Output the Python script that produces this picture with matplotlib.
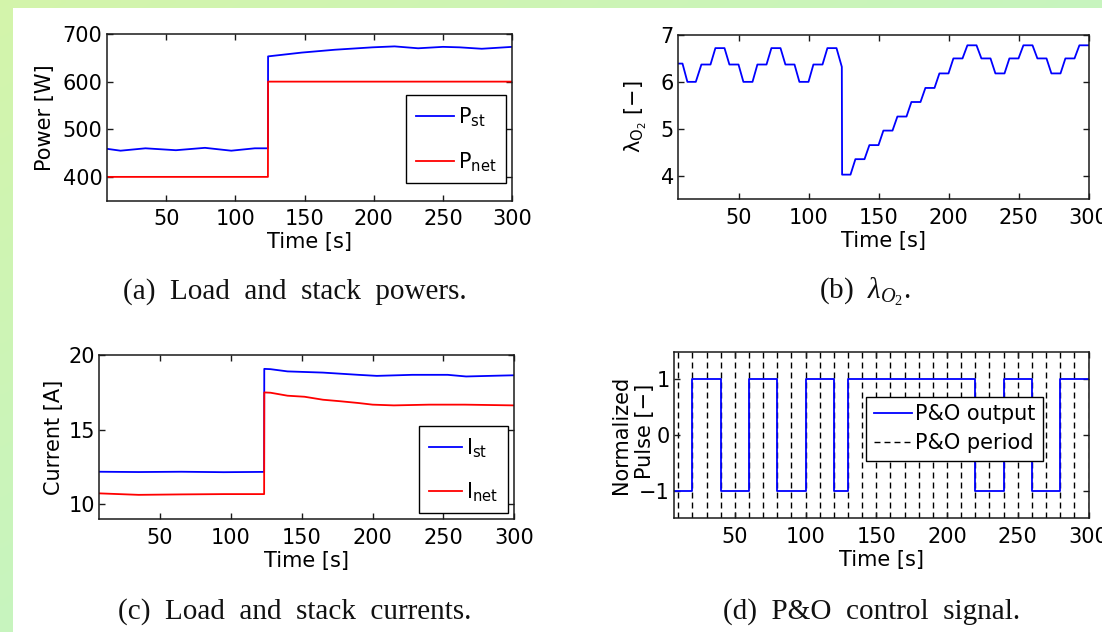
import numpy as np
import matplotlib
matplotlib.use("Agg")
import matplotlib.pyplot as plt
from matplotlib.lines import Line2D
from matplotlib.patches import Rectangle

# ---------------- data ----------------
xticks_time = [50, 100, 150, 200, 250, 300]

# (a) powers
t_pst = [7, 17, 35, 57, 78, 97, 114, 123.5, 123.6, 148, 172, 199, 215, 232, 250, 262, 278, 300]
p_st = [459, 455, 460, 456, 461, 455, 460, 460, 653, 661, 667, 672, 674, 670, 673, 672, 669, 673]
t_pnet = [7, 123.5, 123.6, 300]
p_net = [400, 400, 600, 600]

# (b) oxygen excess ratio
t_lam = [7, 10, 13.5, 19.5, 23.5, 30, 33.5, 40, 43.5, 50, 53.5, 60, 63.5, 70, 73.5,
         80, 83.5, 90, 93.5, 100, 103.5, 110, 113.5, 120, 123.8, 124, 130, 133.5,
         140, 143.5, 150, 153.5, 160, 163.5, 170, 173.5, 180, 183.5, 190, 193.5,
         200, 203.5, 210, 213.5, 220, 223.5, 230, 233.5, 240, 243.5, 250, 253.5,
         260, 263.5, 270, 273.5, 280, 283.5, 290, 293.5, 300]
lam = [6.39, 6.39, 6.0, 6.0, 6.37, 6.37, 6.72, 6.72, 6.37, 6.37, 6.0, 6.0, 6.37, 6.37, 6.72,
       6.72, 6.37, 6.37, 6.0, 6.0, 6.37, 6.37, 6.72, 6.72, 6.32, 4.02, 4.02, 4.35,
       4.35, 4.65, 4.65, 4.96, 4.96, 5.26, 5.26, 5.57, 5.57, 5.87, 5.87, 6.18,
       6.18, 6.5, 6.5, 6.78, 6.78, 6.5, 6.5, 6.18, 6.18, 6.5, 6.5, 6.78,
       6.78, 6.5, 6.5, 6.18, 6.18, 6.5, 6.5, 6.78, 6.78]

# (c) currents
t_ist = [7, 35, 65, 95, 123.5, 123.6, 128, 140, 165, 190, 203, 228, 253, 266, 291, 300]
i_st = [12.17, 12.15, 12.17, 12.14, 12.16, 19.07, 19.05, 18.9, 18.82, 18.67, 18.6, 18.67, 18.67, 18.56, 18.62, 18.64]
t_inet = [7, 35, 65, 95, 123.5, 123.6, 128, 140, 152, 165, 177, 190, 200, 215, 240, 265, 300]
i_net = [10.72, 10.62, 10.65, 10.67, 10.67, 17.49, 17.47, 17.27, 17.2, 17.0, 16.9, 16.78, 16.67, 16.62, 16.67, 16.67, 16.62]

# (d) P&O control signal
t_pulse = [7, 20, 40, 60, 80, 100, 120, 130, 220, 240, 260, 280, 300]
pulse = [-1, 1, -1, 1, -1, 1, -1, 1, -1, 1, -1, 1, 1]
t_period = [10, 20, 30, 40, 50, 60, 70, 80, 90, 100, 110, 120, 130, 140, 150,
            160, 170, 180, 190, 200, 210, 220, 230, 240, 250, 260, 270, 280, 290, 300]

captions = ["(a)  Load  and  stack  powers.",
            r"(b)  $\lambda_{O_\mathsf{2}}$.",
            "(c)  Load  and  stack  currents.",
            "(d)  P&O  control  signal."]

# ---------------- style ----------------
plt.rcParams.update({
    'font.family': ['DejaVu Sans'],
    'font.size': 15,
    'mathtext.fontset': 'custom',
    'mathtext.rm': 'DejaVu Sans',
    'mathtext.it': 'Liberation Serif:italic',
    'mathtext.sf': 'Liberation Serif',
    'axes.linewidth': 1.1,
    'axes.edgecolor': '#1a1a1a',
    'xtick.direction': 'in', 'ytick.direction': 'in',
    'xtick.top': True, 'ytick.right': True,
    'xtick.major.size': 4, 'ytick.major.size': 4,
    'xtick.major.width': 1.0, 'ytick.major.width': 1.0,
    'xtick.major.pad': 6.2, 'ytick.major.pad': 3.1,
    'xtick.color': '#1a1a1a', 'ytick.color': '#1a1a1a',
    'xtick.labelcolor': 'black', 'ytick.labelcolor': 'black',
})

W, H = 1102, 632
fig = plt.figure(figsize=(W / 100, H / 100), dpi=100)

# background: green gradient strips at top and left, white page
bg = fig.add_axes([0, 0, 1, 1], zorder=-10)
bg.set_axis_off()
c1 = np.array([0.83, 0.96, 0.67])
c2 = np.array([0.75, 0.96, 0.80])
gx = np.linspace(0, 1, 200)[None, :, None]
gy = np.linspace(0, 1, 120)[:, None, None]
mix = np.clip(0.6 * gx + 0.6 * gy, 0, 1)
grad = c1 * (1 - mix) + c2 * mix
bg.imshow(grad, extent=[0, W, H, 0], aspect='auto', interpolation='bilinear')
bg.add_patch(Rectangle((12.5, 7.5), W, H, color='white', lw=0))
bg.set_xlim(0, W)
bg.set_ylim(H, 0)


def rect(x0, y0, x1, y1):
    return [x0 / W, 1 - y1 / H, (x1 - x0) / W, (y1 - y0) / H]


def style(ax, yticks, ylim):
    ax.set_xlim(7, 300)
    ax.set_ylim(*ylim)
    ax.set_xticks(xticks_time)
    ax.set_yticks(yticks)
    ax.set_xlabel("Time [s]")
    ax.xaxis.set_label_coords(0.5, -31.5 / (ax.get_position().height * H))


def legend(ax, handles, labels, loc, anchor, labelspacing, borderpad, handlelength=1.84):
    leg = ax.legend(handles, labels, loc=loc, bbox_to_anchor=anchor, borderaxespad=0,
                    fancybox=False, edgecolor='black', framealpha=1, shadow=False,
                    handlelength=handlelength, handletextpad=0.15, borderpad=borderpad,
                    labelspacing=labelspacing, fontsize=15)
    leg.get_frame().set_linewidth(1.0)
    return leg


blue = '#0000ff'
red = '#ff0000'

# (a)
axa = fig.add_axes(rect(106.7, 34, 512.2, 200.7))
la, = axa.plot(t_pst, p_st, color=blue, lw=1.3)
lb, = axa.plot(t_pnet, p_net, color=red, lw=1.3)
style(axa, [400, 500, 600, 700], (350, 700))
axa.set_ylabel("Power [W]")
axa.yaxis.set_label_coords(-0.127, 0.5)
legend(axa, [la, lb], [r"P$_\mathrm{st}$", r"P$_\mathrm{net}$"], 'lower right',
       (0.9857, 0.1044), 1.05, 0.5)

# (b)
axb = fig.add_axes(rect(678.3, 35, 1088.5, 199))
axb.plot(t_lam, lam, color=blue, lw=1.3)
style(axb, [4, 5, 6, 7], (3.5, 7))
axb.set_ylabel(r"$\mathrm{\lambda_{O_2}}$ [−]")
axb.yaxis.set_label_coords(-0.071, 0.5)

# (c)
axc = fig.add_axes(rect(99, 355, 514.3, 519))
lc1, = axc.plot(t_ist, i_st, color=blue, lw=1.3)
lc2, = axc.plot(t_inet, i_net, color=red, lw=1.3)
style(axc, [10, 15, 20], (9, 20))
axc.set_ylabel("Current [A]")
axc.yaxis.set_label_coords(-0.084, 0.5)
legend(axc, [lc1, lc2], [r"I$_\mathrm{st}$", r"I$_\mathrm{net}$"], 'lower right',
       (0.9846, 0.0348), 1.0, 0.5, handlelength=1.6)

# (d)
axd = fig.add_axes(rect(674, 351.7, 1088.5, 518.3))
for tp in t_period:
    axd.axvline(tp, color='black', lw=1.0, dashes=(4.3, 2.9), zorder=1)
axd.step(t_pulse, pulse, where='post', color=blue, lw=1.3, zorder=2)
style(axd, [-1, 0, 1], (-1.5, 1.5))
axd.set_ylabel("Normalized")
axd.yaxis.set_label_coords(-0.1037, 0.5)
axd.text(-0.0458, 0.52, "Pulse [−]", transform=axd.transAxes, rotation=90,
         rotation_mode='anchor', ha='center', va='bottom', fontsize=15)
hd = [Line2D([], [], color=blue, lw=1.3),
      Line2D([], [], color='black', lw=1.0, dashes=(4.3, 2.9))]
legend(axd, hd, ["P&O output", "P&O period"], 'upper right', (0.8895, 0.7299), 0.45, 0.35)

# captions
cap_pos = [(294.6, 299), (865, 299), (295, 619), (872, 619)]
for (cx, cy), txt in zip(cap_pos, captions):
    fig.text(cx / W, 1 - cy / H, txt, family='Liberation Serif', fontsize=21,
             ha='center', va='baseline', color='#111111')

fig.savefig("out.png", dpi=100)
